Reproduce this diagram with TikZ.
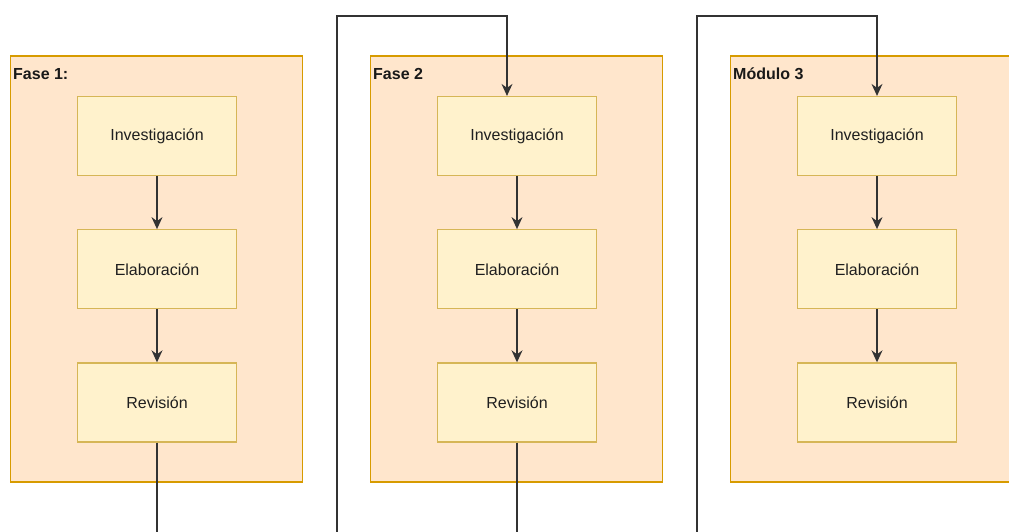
\documentclass[tikz,border=0pt]{standalone}
\usepackage{fontspec}
\setmainfont{Liberation Sans}
\usetikzlibrary{arrows.meta,positioning}
\definecolor{faseFill}{HTML}{FFE6CC}
\definecolor{faseLine}{HTML}{D79B00}
\definecolor{pasoFill}{HTML}{FFF2CC}
\definecolor{pasoLine}{HTML}{D6B656}
\tikzset{
    fase/.style={rectangle,draw=faseLine,fill=faseFill,line width=1.3pt,minimum width=292pt,minimum height=426pt,anchor=north west,outer sep=0pt},
    titulo/.style={anchor=west,inner sep=0pt,text=black!90,font=\fontsize{16}{19}\selectfont\bfseries},
    paso/.style={rectangle,draw=pasoLine,fill=pasoFill,line width=1.3pt,minimum width=159pt,minimum height=79pt,outer sep=0.6pt,text=black!88,font=\fontsize{16}{19}\selectfont},
    flecha/.style={-{Stealth[length=12pt,width=11pt,inset=4pt]},line width=1.3pt,draw=black!80}
}
\begin{document}
\begin{tikzpicture}[x=1pt,y=-1pt]
    \useasboundingbox (0,0) rectangle (1009,531);
    % fases
    \node[fase] (fase1) at (10.5,56) {};
    \node[fase] (fase2) at (370.5,56) {};
    \node[fase] (fase3) at (730.5,56) {};
    \node[titulo] (tit1) at (13,74) {Fase 1:};
    \node[titulo] (tit2) at (373,74) {Fase 2};
    \node[titulo] (tit3) at (733,74) {Módulo 3};
    % pasos
    \node[paso] (inv1) at (157,136) {Investigación};
    \node[paso,below=53pt of inv1] (ela1) {Elaboración};
    \node[paso,below=53pt of ela1] (rev1) {Revisión};
    \node[paso] (inv2) at (517,136) {Investigación};
    \node[paso,below=53pt of inv2] (ela2) {Elaboración};
    \node[paso,below=53pt of ela2] (rev2) {Revisión};
    \node[paso] (inv3) at (877,136) {Investigación};
    \node[paso,below=53pt of inv3] (ela3) {Elaboración};
    \node[paso,below=53pt of ela3] (rev3) {Revisión};
    % conectores
    \draw[flecha] (inv1) -- (ela1);
    \draw[flecha] (ela1) -- (rev1);
    \draw[flecha] (inv2) -- (ela2);
    \draw[flecha] (ela2) -- (rev2);
    \draw[flecha] (inv3) -- (ela3);
    \draw[flecha] (ela3) -- (rev3);
    \coordinate (giro1) at (337,16);
    \coordinate (giro2) at (697,16);
    \draw[flecha] (rev1.south) -- ++(0,120) -| (giro1) -| ([xshift=-10pt]inv2.north);
    \draw[flecha] (rev2.south) -- ++(0,120) -| (giro2) -| (inv3.north);
\end{tikzpicture}
\end{document}
